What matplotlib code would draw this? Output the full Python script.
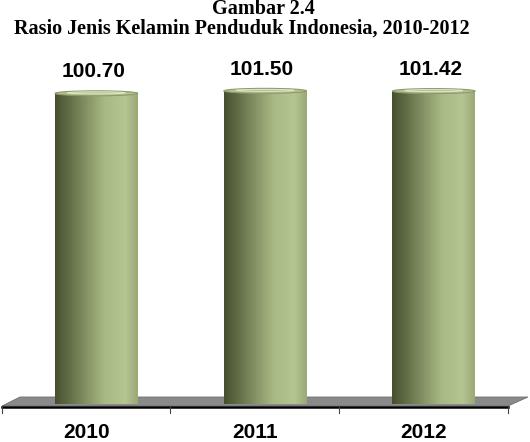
import numpy as np
import matplotlib
matplotlib.use('Agg')
import matplotlib.pyplot as plt
from matplotlib.patches import Polygon, Ellipse
from matplotlib.colors import LinearSegmentedColormap
from matplotlib.lines import Line2D

# data
tahun = ['2010', '2011', '2012']
rasio = [100.70, 101.50, 101.42]

W, H = 530, 442
fig = plt.figure(figsize=(W / 100, H / 100), dpi=100)

def px(x, y):
    # pixel (from top-left) -> figure fraction
    return (x / W, 1 - y / H)

# axes placed in pixels: left 2, right 508, bottom 404, top 60
ax = fig.add_axes([2 / W, (H - 404) / H, 506 / W, 344 / H])
ax.patch.set_visible(False)
ymax = 111.5
ax.set_xlim(-0.5, 2.5)
ax.set_ylim(0, ymax)
for s in ax.spines.values():
    s.set_visible(False)
ax.set_yticks([])
ax.set_xticks(range(len(tahun)))
ax.set_xticklabels(tahun, fontfamily='Liberation Sans', fontweight='bold', fontsize=15)
ax.tick_params(axis='x', length=0, pad=14)

# floor of the 3d chart
floor = Polygon([px(2, 406), px(20, 397), px(528, 397), px(508, 406)],
                closed=True, transform=fig.transFigure, facecolor='#8a8a8a',
                edgecolor='#6e6e6e', lw=0.6, zorder=-1)
fig.add_artist(floor)
fig.add_artist(Line2D([2 / W, 508 / W], [1 - 407 / H] * 2, transform=fig.transFigure,
                      color='black', lw=1.8))
for tx in [2, 170, 339, 508]:
    fig.add_artist(Line2D([tx / W] * 2, [1 - 407 / H, 1 - 413 / H],
                          transform=fig.transFigure, color='#444444', lw=0.8))

# cylinder gradient
cmap = LinearSegmentedColormap.from_list('cyl', [
    (0.0, '#46502f'), (0.25, '#6f7b52'), (0.6, '#a9b985'),
    (0.85, '#b5c591'), (1.0, '#9aa877')])
grad = np.linspace(0, 1, 256).reshape(1, -1)

xpos = np.arange(len(tahun)) + 0.06
bw = 0.49
bars = ax.bar(xpos, rasio, width=bw, facecolor='none', edgecolor='none', zorder=2)
ell_h = 5 * ymax / 344.0
for b, v in zip(bars, rasio):
    x0 = b.get_x()
    x1 = x0 + b.get_width()
    im = ax.imshow(grad, cmap=cmap, extent=[x0, x1, 0, v], aspect='auto',
                   zorder=2, interpolation='bicubic')
    im.set_clip_path(b)
    # top of the cylinder
    ax.add_patch(Ellipse(((x0 + x1) / 2, v), x1 - x0, ell_h, facecolor='#b3c18f',
                         edgecolor='#8d9a6a', lw=0.8, zorder=3))
    ax.add_patch(Ellipse(((x0 + x1) / 2, v + ell_h * 0.1), (x1 - x0) * 0.7, ell_h * 0.4,
                         facecolor='none', edgecolor='#dfe6cc', lw=0.7, zorder=3))
    ax.text((x0 + x1) / 2 - 0.02, v + 4.0, '%.2f' % v, ha='center', va='bottom',
            fontfamily='Liberation Sans', fontweight='bold', fontsize=15)

ax.set_xlim(-0.5, 2.5)
ax.set_ylim(0, ymax)

fig.text(*px(263, 9), 'Gambar 2.4', ha='center', va='center',
         fontfamily='Liberation Serif', fontweight='bold', fontsize=14.5)
fig.text(*px(242, 28.5), 'Rasio Jenis Kelamin Penduduk Indonesia, 2010-2012', ha='center',
         va='center', fontfamily='Liberation Serif', fontweight='bold', fontsize=14.5)

fig.savefig('out.png', dpi=100)
